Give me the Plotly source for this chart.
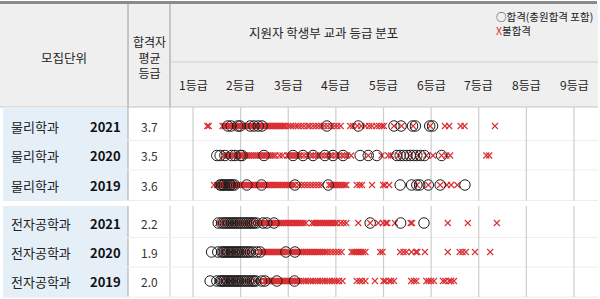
import plotly.graph_objects as go

W, H = 600, 299

# ---------------- data ----------------
departments = ["물리학과", "물리학과", "물리학과", "전자공학과", "전자공학과", "전자공학과"]
years = ["2021", "2020", "2019", "2021", "2020", "2019"]
avg_grades = ["3.7", "3.5", "3.6", "2.2", "1.9", "2.0"]
grade_ticks = [1, 2, 3, 4, 5, 6, 7, 8, 9]
grade_labels = ["1등급", "2등급", "3등급", "4등급", "5등급", "6등급", "7등급", "8등급", "9등급"]

phys_2021_fail = [1.30, 1.33,
                  1.62, 1.66, 1.69, 1.73, 1.77, 1.80, 1.84, 1.87, 1.91, 1.95, 1.98, 2.02, 2.05, 2.09, 2.12,
                  2.16, 2.20, 2.23, 2.27, 2.30, 2.34, 2.37, 2.41, 2.44, 2.48, 2.51, 2.55, 2.58, 2.61, 2.64,
                  2.67, 2.70, 2.73, 2.76, 2.79, 2.82, 2.85, 2.88, 2.91, 2.94,
                  3.00, 3.05, 3.10, 3.16, 3.21, 3.27, 3.33, 3.40, 3.45, 3.52, 3.58, 3.64, 3.70, 3.76,
                  3.83, 3.90, 3.97, 4.03, 4.10,
                  4.30, 4.36, 4.45, 4.53, 4.62, 4.70, 4.76, 4.85, 4.91, 4.97, 5.01,
                  5.22, 5.38, 5.62, 5.98, 6.29, 6.38, 6.62, 6.70, 7.34]
phys_2021_pass = [1.73, 1.80, 1.94, 1.99, 2.20, 2.28, 2.37, 2.45, 3.81, 4.47,
                  5.22, 5.37, 5.61, 5.67, 5.97, 6.03]

phys_2020_fail = [1.65, 1.69, 1.73, 1.77, 1.81, 1.85, 1.89, 1.93, 1.97, 2.01, 2.05, 2.09, 2.13, 2.17,
                  2.21, 2.25, 2.29, 2.33, 2.37, 2.41, 2.45, 2.49, 2.53, 2.57, 2.61, 2.65, 2.69, 2.73,
                  2.82, 2.88, 2.98, 3.02, 3.06, 3.10, 3.14, 3.18, 3.22, 3.26, 3.33, 3.40, 3.47, 3.52,
                  3.58, 3.63, 3.70, 3.76, 3.82, 3.88, 3.93, 4.00, 4.06, 4.13, 4.18, 4.24, 4.32,
                  4.68, 4.96, 5.10, 5.16, 5.32, 5.55, 5.72, 5.90, 6.04, 6.22, 6.32, 6.40, 7.16, 7.22]
phys_2020_pass = [1.50, 1.57, 1.67, 1.81, 1.88, 1.99, 2.03, 2.49, 3.10, 3.31, 3.52, 3.77, 3.94,
                  4.15, 4.51, 4.68, 4.86, 5.28, 5.35, 5.42, 5.49, 5.56, 5.63, 5.70, 5.78, 5.86, 6.22]

phys_2019_fail = [1.44, 1.50, 1.54, 1.58, 1.62, 1.66, 1.70, 1.74, 1.78, 1.82, 1.86, 1.90, 1.94, 1.98,
                  2.02, 2.06, 2.10, 2.14, 2.18, 2.22, 2.26, 2.30, 2.34, 2.38, 2.42, 2.46, 2.50, 2.54,
                  2.58, 2.62, 2.66, 2.70, 2.74, 2.78, 2.82, 2.86, 2.90, 2.94, 2.98, 3.02, 3.06, 3.10, 3.14,
                  3.22, 3.28, 3.34, 3.40, 3.46, 3.52, 3.58, 3.64, 3.70,
                  3.86, 3.90, 3.94, 3.98, 4.02, 4.06, 4.10, 4.14, 4.18, 4.22,
                  4.44, 4.50, 4.55, 4.76, 4.99, 5.03, 5.12, 5.70, 5.94, 6.19, 6.33, 6.42, 6.55]
phys_2019_pass = [1.57, 1.60, 1.63, 1.66, 1.70, 1.74, 1.77, 1.79, 1.83, 1.87, 2.13, 2.44, 3.14, 3.84,
                  5.35, 5.59, 5.70, 5.76, 5.94, 6.19, 6.71]

elec_2021_fail = [1.53, 1.62, 1.70, 1.78, 1.86, 1.94, 2.02, 2.10, 2.18, 2.26, 2.34,
                  2.40, 2.44, 2.48, 2.52, 2.56, 2.60, 2.64, 2.68, 2.72, 2.76, 2.80, 2.84, 2.88, 2.92,
                  2.96, 3.00, 3.04, 3.08, 3.12, 3.16, 3.20, 3.24, 3.28, 3.32, 3.37,
                  3.50, 3.54, 3.58, 3.62, 3.66, 3.70, 3.74, 3.78, 3.82, 3.86, 3.90, 3.94, 3.98, 4.02,
                  4.10, 4.16, 4.22,
                  4.47, 4.72, 4.89, 4.99, 5.05, 5.08, 5.24, 5.57, 5.60, 6.35, 6.77, 7.38]
elec_2021_pass = [1.53, 1.60, 1.64, 1.68, 1.72, 1.76, 1.80, 1.84, 1.88, 1.92, 1.96, 2.00, 2.04,
                  2.08, 2.12, 2.16, 2.20, 2.24, 2.28, 2.33, 2.47, 2.55, 2.70, 4.72, 5.36, 5.85]

elec_2020_fail = [1.60, 1.70, 1.80, 1.90, 2.00, 2.10, 2.20, 2.30,
                  2.42, 2.45, 2.48, 2.51, 2.54, 2.57, 2.60, 2.63, 2.66, 2.69, 2.72, 2.75, 2.78, 2.81,
                  2.84, 2.87, 2.90, 2.95, 3.00, 3.05, 3.10, 3.14,
                  3.18, 3.22, 3.26, 3.30, 3.34, 3.38, 3.42, 3.46, 3.50, 3.54, 3.58, 3.62, 3.66, 3.70,
                  3.74, 3.78, 3.82,
                  3.88, 3.94, 4.00, 4.06, 4.12,
                  4.33, 4.37, 4.41, 4.45, 4.49, 4.53, 4.57, 4.62, 4.93, 4.98, 5.35, 5.42, 5.48, 5.59,
                  5.68, 5.71, 5.87, 6.35, 6.60, 6.66, 6.73, 6.92, 7.24]
elec_2020_pass = [1.39, 1.52, 1.60, 1.63, 1.66, 1.70, 1.73, 1.76, 1.80, 1.83, 1.86, 1.90, 1.93,
                  1.96, 2.00, 2.04, 2.08, 2.12, 2.16, 2.20, 2.26, 2.34, 2.41, 2.95, 3.14]

elec_2019_fail = [1.60, 1.70, 1.80, 1.90, 2.00, 2.10, 2.20, 2.30, 2.40,
                  2.50, 2.53, 2.56, 2.59, 2.62, 2.65, 2.68, 2.71, 2.74, 2.77, 2.80, 2.83, 2.86, 2.89,
                  2.92, 2.95, 2.98, 3.01, 3.04, 3.07, 3.10, 3.14, 3.18,
                  3.22, 3.27, 3.32, 3.37, 3.42, 3.47, 3.52, 3.57, 3.62, 3.67, 3.72, 3.77, 3.82, 3.87,
                  3.92, 3.97, 4.02, 4.07, 4.14,
                  4.44, 4.50, 4.55, 4.62, 4.82, 5.00, 5.04, 5.12, 5.16, 5.22, 5.58, 5.64, 5.69, 5.90,
                  5.95, 6.00, 6.06, 6.25, 6.30, 6.38, 6.42, 6.48]
elec_2019_pass = [1.36, 1.50, 1.57, 1.60, 1.63, 1.66, 1.70, 1.73, 1.76, 1.80, 1.83, 1.86, 1.90,
                  1.93, 1.96, 2.00, 2.04, 2.08, 2.12, 2.16, 2.20, 2.24, 2.28, 2.32, 2.44, 2.51, 2.76, 3.13]

fail_rows = [phys_2021_fail, phys_2020_fail, phys_2019_fail, elec_2021_fail, elec_2020_fail, elec_2019_fail]
pass_rows = [phys_2021_pass, phys_2020_pass, phys_2019_pass, elec_2021_pass, elec_2020_pass, elec_2019_pass]

# ---------------- layout constants (pixels) ----------------
FONT = "Noto Sans CJK KR"
RED = "#da2f33"
row_centers = [126, 155.5, 185, 223, 252, 281]
group_spans = [(107, 200.5), (206, 297)]
row_separators = [140.5, 170, 237.5, 267]
COL_NAME_R = 128
COL_AVG_R = 170
PLOT_R = 598

def px(x):
    return x / W

fig = go.Figure()

# markers
for i in range(len(fail_rows)):
    fig.add_trace(go.Scatter(
        x=fail_rows[i], y=[row_centers[i]] * len(fail_rows[i]),
        mode="markers", hoverinfo="skip", showlegend=False,
        marker=dict(symbol="x-thin", size=6, color=RED, line=dict(color=RED, width=1.1))))
for i in range(len(pass_rows)):
    fig.add_trace(go.Scatter(
        x=pass_rows[i], y=[row_centers[i]] * len(pass_rows[i]),
        mode="markers", hoverinfo="skip", showlegend=False,
        marker=dict(symbol="circle-open", size=10.5, color="#1c1c1c", line=dict(width=1))))

shapes = []
# header background
shapes.append(dict(type="rect", xref="paper", yref="y", x0=0, x1=px(PLOT_R), y0=3, y1=107,
                   fillcolor="#efefef", line=dict(width=0), layer="below"))
# top border
shapes.append(dict(type="line", xref="paper", yref="y", x0=0, x1=px(597), y0=2.5, y1=2.5,
                   line=dict(color="#8a8a8a", width=3), layer="below"))
# header lines
shapes.append(dict(type="line", xref="paper", yref="y", x0=px(COL_NAME_R), x1=px(COL_NAME_R), y0=4, y1=107,
                   line=dict(color="#9a9a9a", width=1), layer="below"))
shapes.append(dict(type="line", xref="paper", yref="y", x0=px(COL_AVG_R), x1=px(COL_AVG_R), y0=4, y1=107,
                   line=dict(color="#9a9a9a", width=1), layer="below"))
shapes.append(dict(type="line", xref="paper", yref="y", x0=px(COL_AVG_R), x1=px(PLOT_R), y0=62, y1=62,
                   line=dict(color="#cfcfcf", width=1), layer="below"))
shapes.append(dict(type="line", xref="paper", yref="y", x0=0, x1=px(PLOT_R), y0=107, y1=107,
                   line=dict(color="#c4c4c4", width=1), layer="below"))

for (y0, y1) in group_spans:
    # name/year cell background
    shapes.append(dict(type="rect", xref="paper", yref="y", x0=px(3), x1=px(COL_NAME_R), y0=y0, y1=y1,
                       fillcolor="#e5eff8", line=dict(width=0), layer="below"))
    shapes.append(dict(type="line", xref="paper", yref="y", x0=px(COL_NAME_R), x1=px(COL_NAME_R), y0=y0, y1=y1,
                       line=dict(color="#a8a8a8", width=1), layer="below"))
    shapes.append(dict(type="line", xref="paper", yref="y", x0=px(COL_AVG_R), x1=px(COL_AVG_R), y0=y0, y1=y1,
                       line=dict(color="#cccccc", width=1), layer="below"))
    for g in grade_ticks:
        shapes.append(dict(type="line", xref="x", yref="y", x0=g, x1=g, y0=y0, y1=y1,
                           line=dict(color="#cdcdcd", width=1.2), layer="below"))
    shapes.append(dict(type="line", xref="paper", yref="y", x0=px(3), x1=px(PLOT_R), y0=y1, y1=y1,
                       line=dict(color="#ececec", width=1), layer="below"))

for ys in row_separators:
    shapes.append(dict(type="line", xref="paper", yref="y", x0=px(3), x1=px(PLOT_R), y0=ys, y1=ys,
                       line=dict(color="#eeeeee", width=1), layer="below"))

annotations = []
def txt(x, y, s, size=12, color="#222222", xanchor="center", bold=False, xref="paper"):
    annotations.append(dict(x=x if xref != "paper" else px(x), y=y, xref=xref, yref="y",
                            text=("<b>%s</b>" % s) if bold else s, showarrow=False,
                            xanchor=xanchor, yanchor="middle",
                            font=dict(family=FONT, size=size, color=color)))

txt(64, 57, "모집단위", size=12.5)
txt(149, 57, "합격자<br>평균<br>등급", size=12)
txt(323, 32, "지원자 학생부 교과 등급 분포", size=12.5)
txt(494, 16, "○합격(충원합격 포함)", size=10.5, xanchor="left")
txt(494, 30, "<span style='color:%s'>X</span>불합격" % RED, size=10.5, xanchor="left")
for g, lab in zip(grade_ticks, grade_labels):
    txt(g, 84, lab, size=12, xref="x")

for i in range(len(departments)):
    txt(9, row_centers[i], departments[i], size=13, xanchor="left")
    txt(123, row_centers[i], years[i], size=13, xanchor="right", bold=True, color="#111111")
    txt(149, row_centers[i], avg_grades[i], size=12, color="#333333")

fig.update_layout(
    width=W, height=H,
    margin=dict(l=0, r=0, t=0, b=0),
    paper_bgcolor="white", plot_bgcolor="rgba(0,0,0,0)",
    xaxis=dict(domain=[px(COL_AVG_R), px(PLOT_R)], range=[0.517, 9.504], visible=False, fixedrange=True),
    yaxis=dict(domain=[0, 1], range=[H, 0], visible=False, fixedrange=True),
    shapes=shapes, annotations=annotations, showlegend=False,
)

fig.write_html("out.html")
